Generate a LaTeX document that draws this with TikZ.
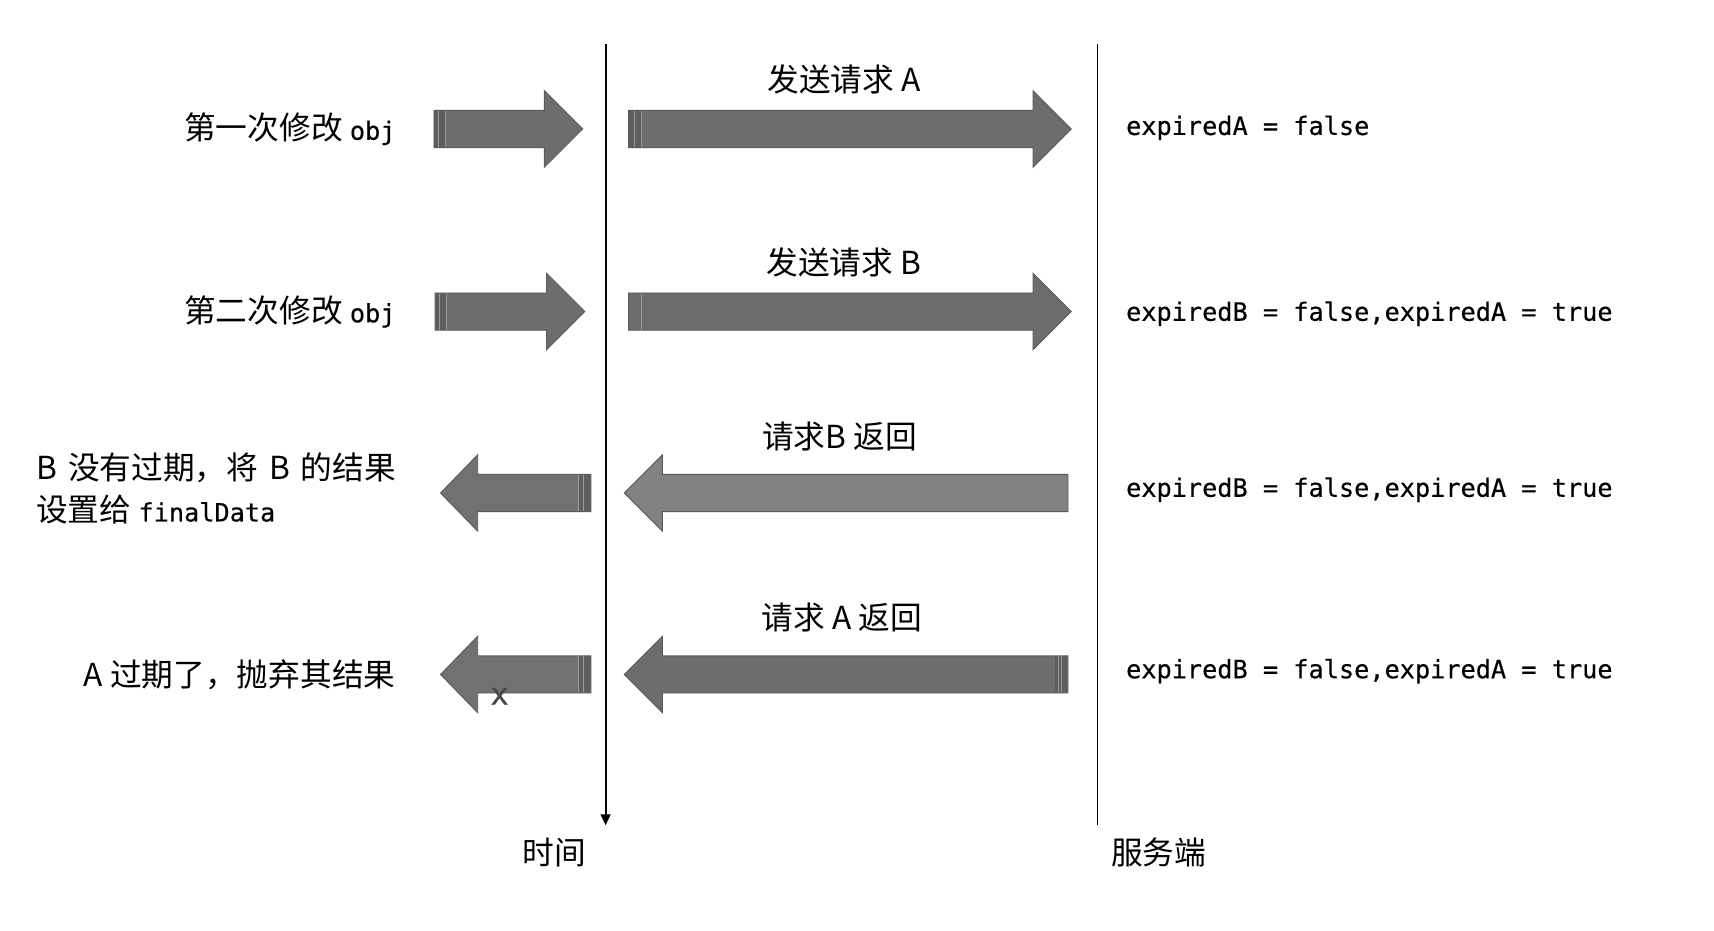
\documentclass[tikz,border=0pt]{standalone}
\usepackage{fontspec}
\usetikzlibrary{arrows.meta}
\newfontfamily\cjk{Noto Sans CJK SC}
\newfontfamily\monof[FakeBold=0.4]{DejaVu Sans Mono}
\newcommand\cjksz{\fontsize{29}{38}\selectfont}
\newcommand\monosz{\fontsize{23.1}{30}\selectfont}
\newcommand\gapx{\hspace{10pt}}
\definecolor{arrfill}{HTML}{6D6D6D}
\definecolor{arrlight}{HTML}{828282}
\definecolor{arrmid}{HTML}{717171}
\definecolor{arredge}{HTML}{5A5A5A}
\definecolor{bandc}{HTML}{5E5E5E}
\definecolor{stripec}{HTML}{9A9A9A}
% #1 tail x, #2 head-back x, #3 tip x, #4 centre y, #5 fill colour
\newcommand\FatArr[5]{%
  \path[fatarrow, fill=#5] (#1,{#4-17}) -- (#2,{#4-17}) -- (#2,{#4-35}) -- (#3,#4)
    -- (#2,{#4+35}) -- (#2,{#4+17}) -- (#1,{#4+17}) -- cycle;}
% #1 band start x, #2 band end x, #3 centre y
\newcommand\TailBand[3]{%
  \fill[bandc] (#1,{#3-16.5}) rectangle (#2,{#3+16.5});}
% #1 x, #2 centre y
\newcommand\TailLine[2]{%
  \draw[stripeline] (#1,{#2-16.5}) -- (#1,{#2+16.5});}
\tikzset{
  fatarrow/.style={draw=arredge, line width=0.8pt, line join=miter},
  stripeline/.style={draw=stripec, line width=0.9pt},
  lbl/.style={font=\cjk\cjksz, inner sep=0pt, text=black},
  state/.style={font=\monof\monosz, inner sep=0pt, anchor=west, text=black},
  axisline/.style={draw=black, line width=1.7pt},
}
\begin{document}
\begin{tikzpicture}[x=1pt, y=-1pt]
\useasboundingbox (0,0) rectangle (1568,851);
\fill[white] (0,0) rectangle (1568,851);

% lifelines
\coordinate (ttop) at (554,40);
\coordinate (tbot) at (554,755);
\coordinate (stop) at (1004,40);
\coordinate (sbot) at (1004,755);
\draw[axisline, -{Triangle[width=9pt,length=10pt]}] (ttop) -- (tbot);
\draw[draw=black, line width=1.4pt] (stop) -- (sbot);
\node[lbl] (time) at (507,780) {时间};
\node[lbl] (server) at (1060,780) {服务端};

% row 1
\FatArr{397}{498}{533}{118}{arrfill}
\TailBand{397.4}{407}{118}
\TailLine{401}{118}\TailLine{407.2}{118}
\FatArr{575}{945}{980}{118}{arrfill}
\TailBand{575.4}{586.5}{118}
\TailLine{580.5}{118}\TailLine{586.5}{118}
\node[lbl] (sendA) at (772,73) {发送请求 A};
\node[lbl, anchor=east] (mod1) at (362,118) {第一次修改 {\monof\monosz obj}};
\node[state] (st1) at (1030,117) {expiredA = false};

% row 2
\FatArr{398}{500}{535}{285}{arrfill}
\TailBand{398.4}{408}{285}
\TailLine{402}{285}\TailLine{408}{285}
\FatArr{575}{945}{980}{285}{arrfill}
\TailLine{586.5}{285}
\node[lbl] (sendB) at (772,240) {发送请求 B};
\node[lbl, anchor=east] (mod2) at (362,285) {第二次修改 {\monof\monosz obj}};
\node[state] (st2) at (1030,287) {expiredB = false,expiredA = true};

% row 3
\FatArr{540.5}{437}{403}{451}{arrmid}
\TailBand{528.5}{540.1}{451}
\TailLine{529.5}{451}\TailLine{534}{451}
\FatArr{977}{606}{571}{451}{arrlight}
\node[lbl] (retB) at (768,399) {请求B 返回};
\node[lbl, anchor=west, align=left] (useB) at (33,447)
  {B\gapx 没有过期，将\gapx B\gapx 的结果\\设置给 {\monof\monosz finalData}};
\node[state] (st3) at (1030,448) {expiredB = false,expiredA = true};

% row 4
\FatArr{540.5}{437}{403}{617}{arrmid}
\TailBand{528.5}{540.1}{617}
\TailLine{529.5}{617}\TailLine{534}{617}
\FatArr{977}{606}{571}{617}{arrfill}
\TailBand{965}{976.6}{617}
\TailLine{968.3}{617}\TailLine{971.5}{617}
\node[lbl] (retA) at (770,565) {请求 A 返回};
\node[lbl, anchor=east] (dropA) at (362,617) {A 过期了，抛弃其结果};
\node[font=\monof\fontsize{28}{30}\selectfont, text=black!72, inner sep=0pt] (xmark) at (457,637) {x};
\node[state] (st4) at (1030,614) {expiredB = false,expiredA = true};
\end{tikzpicture}
\end{document}
